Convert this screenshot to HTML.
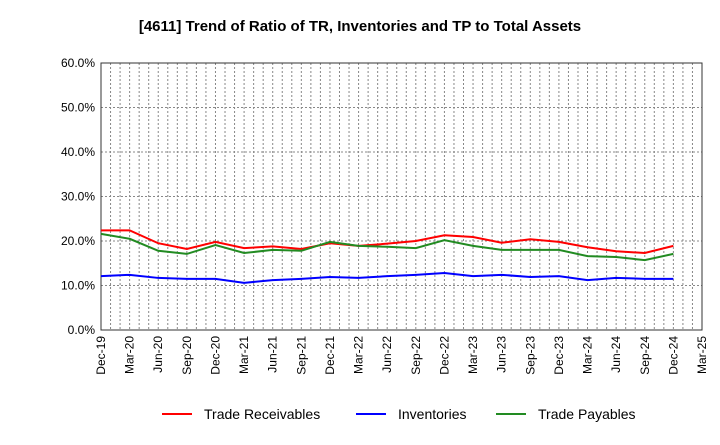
<!DOCTYPE html>
<html><head><meta charset="utf-8"><style>
body{margin:0;background:#fff;font-family:"Liberation Sans",sans-serif}
</style></head><body>
<svg id="c" width="720" height="440" xmlns="http://www.w3.org/2000/svg">
<text x="360" y="31" text-anchor="middle" font-size="15" font-weight="bold">[4611]  Trend of Ratio of TR, Inventories and TP to Total Assets</text>
</svg>
<script>
const categories=["Dec-19","Mar-20","Jun-20","Sep-20","Dec-20","Mar-21","Jun-21","Sep-21","Dec-21","Mar-22","Jun-22","Sep-22","Dec-22","Mar-23","Jun-23","Sep-23","Dec-23","Mar-24","Jun-24","Sep-24","Dec-24","Mar-25"];
const tradeReceivables=[22.4,22.4,19.5,18.2,19.8,18.4,18.8,18.2,19.5,18.9,19.4,20.0,21.3,20.9,19.6,20.4,19.8,18.6,17.7,17.3,18.9];
const inventories=[12.1,12.4,11.7,11.5,11.5,10.6,11.2,11.5,11.9,11.7,12.1,12.4,12.8,12.1,12.4,11.9,12.1,11.2,11.7,11.5,11.5];
const tradePayables=[21.6,20.5,17.8,17.1,19.1,17.3,18.0,17.8,19.8,18.9,18.7,18.4,20.2,18.9,18.0,18.0,18.0,16.6,16.4,15.7,17.1];
const yTicks=[0,10,20,30,40,50,60];
const NS="http://www.w3.org/2000/svg",svg=document.getElementById('c');
const L=101,R=702,T=63,B=330;
const x=i=>L+(R-L)*i/(categories.length-1);
const y=v=>B-(B-T)*v/60;
function mk(t,a,p){const e=document.createElementNS(NS,t);for(const k in a)e.setAttribute(k,a[k]);(p||svg).appendChild(e);return e;}
yTicks.forEach(v=>{
 const g=mk('line',{x1:L,x2:R,y1:y(v),y2:y(v),stroke:'#888','stroke-dasharray':'2,2'});
 
 
 const t=mk('text',{x:L-6,y:y(v)+4,'text-anchor':'end','font-size':12});
 t.textContent=v.toFixed(1)+'%';
 
 
});
for(let m=0;m<=(categories.length-1)*3;m++){
 const xi=x(m/3);
 const g=mk('line',{x1:xi,x2:xi,y1:T,y2:B,stroke:'#888','stroke-dasharray':'2,2'});
 
 
}
categories.forEach((c,i)=>{
 const t=mk('text',{x:0,y:0,'text-anchor':'end','font-size':12,transform:`translate(${x(i)+4},${B+6}) rotate(-90)`});
 t.textContent=c;
 
 
});
const fr=mk('rect',{x:L,y:T,width:R-L,height:B-T,fill:'none',stroke:'#333'});


const series=[[tradeReceivables,'#f00','Trade Receivables','trade-receivables-line'],[inventories,'#00f','Inventories','inventories-line'],[tradePayables,'#228b22','Trade Payables','trade-payables-line']];
series.forEach(s=>{
 const p=mk('polyline',{points:s[0].map((v,i)=>x(i)+','+y(v)).join(' '),fill:'none',stroke:s[1],'stroke-width':2});
 
 
});
const lx=[162,356,496];
series.forEach((s,i)=>{
 const l=mk('line',{x1:lx[i],x2:lx[i]+30,y1:414,y2:414,stroke:s[1],'stroke-width':2});
 
 
 const t=mk('text',{x:lx[i]+42,y:419,'font-size':14});
 t.textContent=s[2];
 
 
});
</script>
</body></html>
